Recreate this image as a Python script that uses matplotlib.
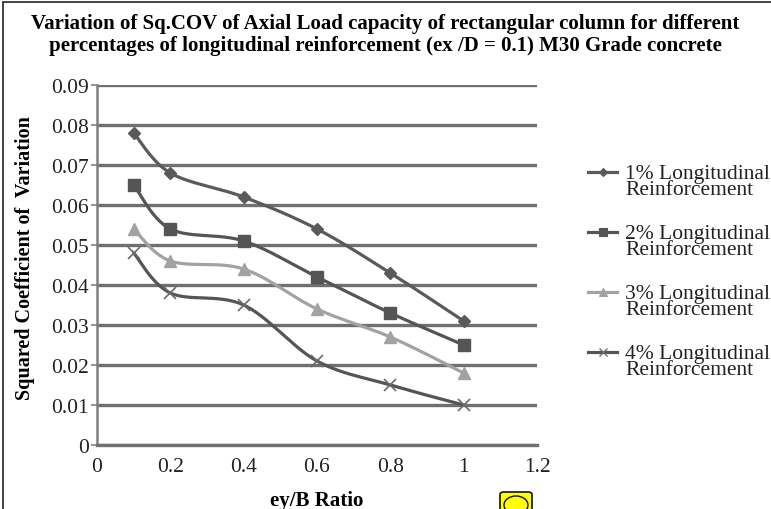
import numpy as np
import matplotlib.pyplot as plt
from matplotlib.lines import Line2D
from matplotlib.patches import Rectangle, FancyBboxPatch, Ellipse

# data
ratio = [0.1, 0.2, 0.4, 0.6, 0.8, 1.0]
cov_1pct = [0.078, 0.068, 0.062, 0.054, 0.043, 0.031]
cov_2pct = [0.065, 0.054, 0.051, 0.042, 0.033, 0.025]
cov_3pct = [0.054, 0.046, 0.044, 0.034, 0.027, 0.018]
cov_4pct = [0.048, 0.038, 0.035, 0.021, 0.015, 0.010]
series_labels = ["1% Longitudinal\nReinforcement", "2% Longitudinal\nReinforcement",
                 "3% Longitudinal\nReinforcement", "4% Longitudinal\nReinforcement"]
x_ticks = [0, 0.2, 0.4, 0.6, 0.8, 1.0, 1.2]
x_tick_labels = ["0", "0.2", "0.4", "0.6", "0.8", "1", "1.2"]
y_ticks = [0, 0.01, 0.02, 0.03, 0.04, 0.05, 0.06, 0.07, 0.08, 0.09]
y_tick_labels = ["0", "0.01", "0.02", "0.03", "0.04", "0.05", "0.06", "0.07", "0.08", "0.09"]

title = ("Variation of Sq.COV of Axial Load capacity of rectangular column for different\n"
         "percentages of longitudinal reinforcement (ex /D = 0.1) M30 Grade concrete")

plt.rcParams['font.family'] = ['Liberation Serif', 'DejaVu Serif']

W, H = 771, 510


def smooth(xs, ys, n=30, sx=1.2 / 440, sy=0.09 / 360):
    # Excel-like smoothed line (bezier through the points), done in pixel-ish space
    p = np.column_stack([np.asarray(xs) / sx, np.asarray(ys) / sy])
    pts = np.vstack([p[0], p, p[-1]])
    t = np.linspace(0, 1, n)[:, None]
    out = []
    for i in range(1, len(pts) - 2):
        p0, p1, p2, p3 = pts[i - 1:i + 3]
        c1 = p1 + (p2 - p0) / 6
        c2 = p2 - (p3 - p1) / 6
        seg = (1 - t) ** 3 * p1 + 3 * (1 - t) ** 2 * t * c1 + 3 * (1 - t) * t ** 2 * c2 + t ** 3 * p2
        out.append(seg if i == 1 else seg[1:])
    out = np.vstack(out)
    return out[:, 0] * sx, out[:, 1] * sy


fig = plt.figure(figsize=(W / 100, H / 100), dpi=100)
ax = fig.add_axes([97 / W, 1 - 446 / H, 440 / W, 360 / H])

styles = [
    dict(color='#5a5a5a', marker='D', ms=6.5, mec='#5a5a5a', mew=1),
    dict(color='#555555', marker='s', ms=8, mec='#555555', mew=1),
    dict(color='#a2a2a2', marker='^', ms=8.5, mec='#a2a2a2', mew=1),
    dict(color='#555555', marker='x', ms=8.5, mec='#6a6a6a', mew=1.2),
]
all_series = [cov_1pct, cov_2pct, cov_3pct, cov_4pct]

for vals, st in zip(all_series, styles):
    sxs, sys_ = smooth(ratio, vals)
    ax.plot(sxs, sys_, color=st['color'], lw=2.3, zorder=3, solid_capstyle='round')
    ax.plot(ratio, vals, ls='none', marker=st['marker'], ms=st['ms'],
            color=st['color'], mec=st['mec'], mew=st['mew'], zorder=4)

ax.set_xlim(0, 1.2)
ax.set_ylim(0, 0.09)
ax.set_xticks(x_ticks)
ax.set_xticklabels(x_tick_labels)
ax.set_yticks(y_ticks)
ax.set_yticklabels(y_tick_labels)
ax.tick_params(axis='x', length=0, labelsize=15.5, pad=9, colors='#222222')
ax.tick_params(axis='y', length=4, width=1.2, color='#808080', labelsize=15.5, pad=2, labelcolor='#222222')
ax.grid(axis='y', color='#707070', lw=2.4)
ax.set_axisbelow(True)
for side in ['top', 'right']:
    ax.spines[side].set_visible(False)
ax.spines['left'].set_color('#808080')
ax.spines['left'].set_linewidth(1.8)
ax.spines['bottom'].set_color('#707070')
ax.spines['bottom'].set_linewidth(2.4)

ax.set_xlabel("ey/B Ratio", fontsize=15, fontweight='bold', labelpad=10)
fig.text(25 / W, 1 - 258 / H, "Squared Coefficient of  Variation", rotation=90,
         ha='center', va='center', fontsize=14.5, fontweight='bold')

fig.text(0.5, 1 - 35 / H, title, ha='center', va='center', fontsize=15,
         fontweight='bold', linespacing=1.1)

# legend, marker aligned with the first text line
leg_y = [173, 233, 293, 353]
for y, lab, st in zip(leg_y, series_labels, styles):
    fy = 1 - y / H
    fig.add_artist(Line2D([588 / W, 617 / W], [fy, fy], color=st['color'], lw=2.3))
    fig.add_artist(Line2D([602.5 / W], [fy], marker=st['marker'], ms=st['ms'] * 0.65,
                          color=st['color'], mec=st['mec'], mew=st['mew'] * 0.8, ls='none'))
    fig.text(625 / W, 1 - (y - 8) / H, lab, ha='left', va='top', fontsize=15.5,
             linespacing=0.8, color='#222222')

# outer frame of the picture
fig.add_artist(Rectangle((2.5 / W, -0.1), 1.2, 1.1 - 3 / H, transform=fig.transFigure,
                         fill=False, ec='#222222', lw=1.2))
# small yellow badge at the bottom
fig.add_artist(FancyBboxPatch((500 / W, -5 / H), 32 / W, 22 / H, transform=fig.transFigure,
                              boxstyle='round,pad=0,rounding_size=0.005', fc='#ffff00',
                              ec='#111111', lw=1.2))
fig.add_artist(Ellipse((516 / W, 4 / H), 24 / W, 18 / H, transform=fig.transFigure,
                       fill=False, ec='#111111', lw=1))

fig.savefig("out.png", dpi=100)
